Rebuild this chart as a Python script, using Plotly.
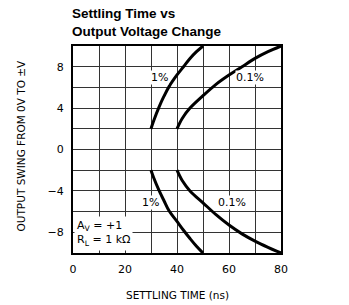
import plotly.graph_objects as go

# Data
x_ticks = [0, 20, 40, 60, 80]
y_ticks = [-8, -4, 0, 4, 8]

pct1_up_x = [30, 31, 33, 35, 37, 40, 42.5, 45, 47.5, 50]
pct1_up_y = [2, 2.75, 4.05, 5.15, 6.1, 7.2, 8.0, 8.8, 9.45, 10]

pct01_up_x = [40, 42, 45, 50, 55, 60, 65, 70, 75, 80]
pct01_up_y = [2, 3.0, 4.0, 5.2, 6.3, 7.2, 8.0, 8.8, 9.45, 10]

pct1_lo_x = [30, 31, 33, 35, 37, 40, 42.5, 45, 47.5, 50]
pct1_lo_y = [-2, -2.7, -3.9, -4.95, -5.95, -6.95, -7.8, -8.6, -9.35, -10]

pct01_lo_x = [40, 42, 45, 50, 55, 60, 65, 70, 75, 80]
pct01_lo_y = [-2, -3.0, -4.0, -5.15, -6.3, -7.3, -8.15, -8.85, -9.45, -10]

curve_labels = ["1%", "0.1%", "1%", "0.1%"]
label_x = [33.3, 68.2, 29.8, 61]
label_y = [7.0, 7.0, -5.15, -5.1]

LABEL_FONT = "DejaVu Sans"

fig = go.Figure()
for xs, ys in [(pct1_up_x, pct1_up_y), (pct01_up_x, pct01_up_y),
               (pct1_lo_x, pct1_lo_y), (pct01_lo_x, pct01_lo_y)]:
    fig.add_trace(go.Scatter(x=xs, y=ys, mode="lines",
                             line=dict(color="black", width=3, shape="spline"),
                             showlegend=False, hoverinfo="skip"))

annotations = []
for t, lx, ly in zip(curve_labels, label_x, label_y):
    annotations.append(dict(x=lx, y=ly, xref="x", yref="y", text=t, showarrow=False,
                            bgcolor="white", borderpad=0,
                            font=dict(family=LABEL_FONT, size=11, color="black")))

annotations.append(dict(x=0.4, y=-9.8, xref="x", yref="y", xanchor="left", yanchor="bottom",
                        text="A<sub>V</sub> = +1<br>R<sub>L</sub> = 1 kΩ", align="left",
                        showarrow=False, bgcolor="white", borderpad=2,
                        font=dict(family=LABEL_FONT, size=11, color="black")))

annotations.append(dict(x=0.5, y=0, xref="paper", yref="paper", xanchor="center", yanchor="middle",
                        yshift=-42, text="SETTLING TIME (ns)", showarrow=False,
                        font=dict(family=LABEL_FONT, size=10.5, color="black")))
annotations.append(dict(x=0, y=0.5, xref="paper", yref="paper", xanchor="center", yanchor="middle",
                        xshift=-53, yshift=4, textangle=-90, text="OUTPUT SWING FROM 0V TO ±V",
                        showarrow=False, font=dict(family=LABEL_FONT, size=10.5, color="black")))

annotations.append(dict(x=0, y=1, xref="paper", yref="paper", xanchor="left", yanchor="bottom",
                        xshift=-3, yshift=5, align="left", showarrow=False,
                        text="<b>Settling Time vs<br>Output Voltage Change</b>",
                        font=dict(family="Liberation Sans", size=13.5, color="black")))

fig.update_layout(
    width=349, height=305,
    margin=dict(l=73, r=68, t=46, b=52),
    paper_bgcolor="white", plot_bgcolor="white",
    annotations=annotations,
)

fig.update_xaxes(range=[0, 80], tickvals=x_ticks, ticks="", showgrid=True, gridcolor="#333",
                 gridwidth=1, minor=dict(dtick=10, showgrid=True, gridcolor="#333", gridwidth=1),
                 showline=True, linecolor="black", linewidth=2, mirror=True, zeroline=False,
                 ticklabelstandoff=5,
                 tickfont=dict(family=LABEL_FONT, size=11, color="black"))
fig.update_yaxes(range=[-10, 10], tickvals=y_ticks, ticks="", showgrid=True, gridcolor="#333",
                 gridwidth=1, minor=dict(dtick=2, showgrid=True, gridcolor="#333", gridwidth=1),
                 showline=True, linecolor="black", linewidth=2, mirror=True, zeroline=False,
                 ticklabelstandoff=5,
                 tickfont=dict(family=LABEL_FONT, size=11, color="black"))

fig.write_html("out.html", config={"displayModeBar": False},
               post_script="document.body.style.margin='0';")
